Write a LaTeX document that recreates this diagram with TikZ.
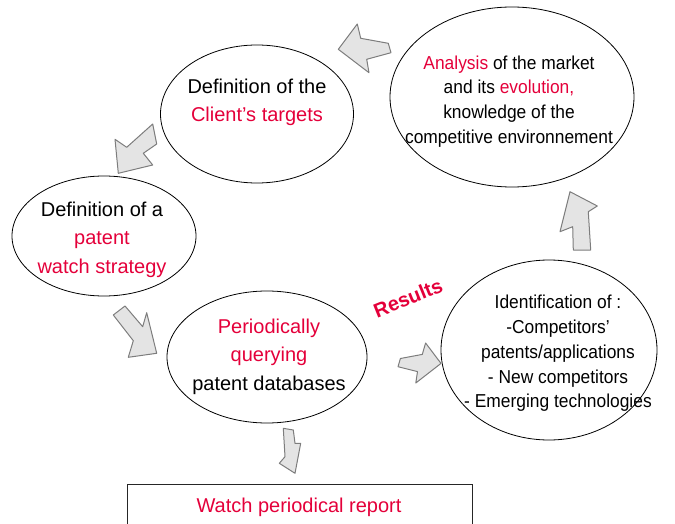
\documentclass[tikz,border=0pt]{standalone}
\usepackage{fontspec}
\setmainfont{Liberation Sans}
\newfontfamily\narrowsans[FakeStretch=0.93]{Liberation Sans}
\usetikzlibrary{shapes.geometric}
\definecolor{accent}{RGB}{228,0,58}
\definecolor{arrowfill}{RGB}{228,228,228}
\definecolor{arrowline}{RGB}{125,125,125}
\begin{document}
\begin{tikzpicture}[x=1pt,y=-1pt,
 oval/.style={draw=black,line width=0.8pt,ellipse,inner sep=0pt},
 blockarrow/.style={fill=arrowfill,draw=arrowline,line width=1pt,line join=round},
 bigtxt/.style={align=center,font=\fontsize{20}{28.5}\selectfont,inner sep=0pt},
 smalltxt/.style={align=center,font=\narrowsans\fontsize{18.7}{24.8}\selectfont,inner sep=0pt},
]
\useasboundingbox (0,0) rectangle (675,524);
% ellipses
\node[oval,minimum width=193pt,minimum height=138pt] (clientE) at (257,114) {};
\node[oval,minimum width=244pt,minimum height=180pt] (marketE) at (512,97) {};
\node[oval,minimum width=184pt,minimum height=120pt] (strategyE) at (104,236) {};
\node[oval,minimum width=200pt,minimum height=132pt] (queryE) at (267,357) {};
\node[oval,minimum width=216pt,minimum height=180pt] (identE) at (549,350) {};
% texts
\node[bigtxt] (clientT) at (257,102.3) {Definition of the\\\textcolor{accent}{Client’s targets}};
\node[bigtxt] (strategyT) at (102,239.8) {Definition of a\\\textcolor{accent}{patent}\\\textcolor{accent}{watch strategy}};
\node[bigtxt] (queryT) at (269,356.8) {\textcolor{accent}{Periodically}\\\textcolor{accent}{querying}\\patent databases};
\node[smalltxt] (marketT) at (509,101.5) {\textcolor{accent}{Analysis} of the market\\and its \textcolor{accent}{evolution,}\\knowledge of the\\competitive environnement};
\node[smalltxt] (identT) at (558,353.4) {Identification of :\\-Competitors’\\patents/applications\\- New competitors\\- Emerging technologies};
\node[rotate=22,text=accent,font=\bfseries\fontsize{20}{24}\selectfont,inner sep=0pt] (results) at (408,298) {Results};
% report box
\node[draw=black!85,line width=0.9pt,minimum width=345pt,minimum height=60pt,anchor=north west,inner sep=0pt] (reportBox) at (127,483.5) {};
\node[text=accent,font=\fontsize{20}{24}\selectfont,inner sep=0pt] (reportT) at (299,507) {Watch periodical report};
% block arrows
\draw[blockarrow] (338.3,49.3) -- (357.3,24) -- (360.7,38.3) -- (388.3,43.3) -- (391,52.7) -- (366.7,59.3) -- (369,72.7) -- cycle;
\draw[blockarrow] (118.3,173.3) -- (115,139.3) -- (126.7,147.3) -- (152.7,124) -- (156.7,144) -- (143.3,153.3) -- (152.7,165) -- cycle;
\draw[blockarrow] (113.3,315) -- (125,306) -- (142.7,326.7) -- (146.7,312.7) -- (156.7,353.3) -- (128.3,357.3) -- (133.3,340.7) -- cycle;
\draw[blockarrow] (441,363.4) -- (425.6,343) -- (422.3,354.4) -- (400.4,358.5) -- (398,366.7) -- (417.5,371.6) -- (415.8,383) -- cycle;
\draw[blockarrow] (570,191.7) -- (597.3,206) -- (588.3,211.7) -- (590.7,250) -- (573.3,250) -- (572.7,226.7) -- (560,231.7) -- cycle;
\draw[blockarrow] (283.3,428.3) -- (293.3,430) -- (295,443.3) -- (300.7,443.3) -- (295,473.3) -- (279.3,463.3) -- (285,456.7) -- cycle;
\end{tikzpicture}
\end{document}
